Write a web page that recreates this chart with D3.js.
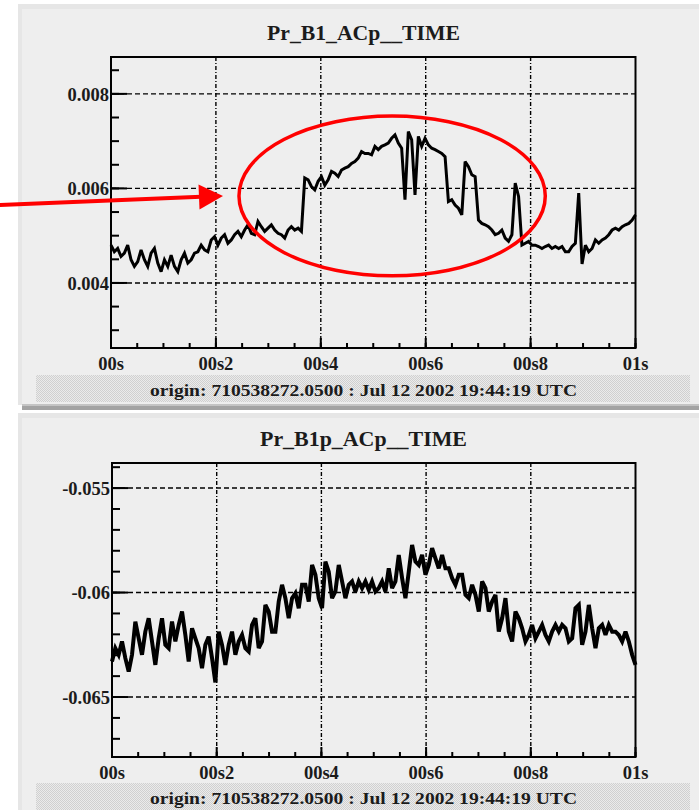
<!DOCTYPE html>
<html>
<head>
<meta charset="utf-8">
<script src="https://cdn.jsdelivr.net/npm/d3@7"></script>
<style>
  html, body { margin: 0; padding: 0; background: #fff; }
  svg { display: block; }
  text { font-family: "Liberation Serif", "DejaVu Serif", serif; font-weight: bold; fill: #1b1b1b; }
</style>
</head>
<body>
<div id="chart"></div>
<script>
const titles = ["Pr_B1_ACp__TIME", "Pr_B1p_ACp__TIME"];
const originText = "origin: 710538272.0500 : Jul 12 2002 19:44:19 UTC";

const xTicks = [0, 0.2, 0.4, 0.6, 0.8, 1];
const xTickLabels = ["00s", "00s2", "00s4", "00s6", "00s8", "01s"];

const topYDomain = [0.002624, 0.00878];
const topYTicks = [0.004, 0.006, 0.008];
const topYLabels = ["0.004", "0.006", "0.008"];

const bottomYDomain = [-0.06787, -0.0538];
const bottomYTicks = [-0.065, -0.06, -0.055];
const bottomYLabels = ["-0.065", "-0.06", "-0.055"];

// Pr_B1_ACp, one sample every ~3.3 px across the second
const topValues = [
  0.00480,0.00466,0.00473,0.00456,0.00463,0.00480,0.00449,0.00435,0.00445,0.00470,
  0.00449,0.00435,0.00463,0.00473,0.00442,0.00424,0.00449,0.00435,0.00459,0.00435,
  0.00424,0.00449,0.00463,0.00442,0.00449,0.00463,0.00466,0.00480,0.00470,0.00466,
  0.00491,0.00498,0.00480,0.00495,0.00502,0.00484,0.00491,0.00502,0.00509,0.00498,
  0.00512,0.00523,0.00505,0.00502,0.00530,0.00519,0.00509,0.00516,0.00523,0.00512,
  0.00505,0.00502,0.00495,0.00512,0.00519,0.00512,0.00516,0.00509,0.00622,0.00618,
  0.00604,0.00597,0.00615,0.00625,0.00607,0.00618,0.00636,0.00632,0.00625,0.00639,
  0.00643,0.00646,0.00653,0.00657,0.00664,0.00678,0.00674,0.00674,0.00671,0.00689,
  0.00682,0.00689,0.00692,0.00696,0.00706,0.00713,0.00696,0.00685,0.00576,0.00720,
  0.00703,0.00586,0.00710,0.00689,0.00706,0.00692,0.00685,0.00682,0.00678,0.00674,
  0.00667,0.00572,0.00576,0.00565,0.00558,0.00544,0.00657,0.00646,0.00629,0.00625,
  0.00533,0.00526,0.00523,0.00519,0.00512,0.00502,0.00505,0.00512,0.00495,0.00488,
  0.00502,0.00611,0.00583,0.00480,0.00484,0.00488,0.00480,0.00480,0.00477,0.00473,
  0.00477,0.00480,0.00473,0.00477,0.00473,0.00477,0.00466,0.00466,0.00477,0.00484,
  0.00590,0.00440,0.00480,0.00466,0.00473,0.00491,0.00484,0.00491,0.00495,0.00502,
  0.00512,0.00516,0.00512,0.00519,0.00523,0.00526,0.00533,0.00544
];

// Pr_B1p_ACp, same sampling
const bottomValues = [
  -0.06330,-0.06266,-0.06298,-0.06234,-0.06314,-0.06378,-0.06298,-0.06139,-0.06219,-0.06298,
  -0.06187,-0.06123,-0.06234,-0.06346,-0.06219,-0.06123,-0.06250,-0.06266,-0.06139,-0.06234,
  -0.06155,-0.06091,-0.06203,-0.06330,-0.06171,-0.06219,-0.06266,-0.06362,-0.06250,-0.06211,
  -0.06314,-0.06430,-0.06187,-0.06250,-0.06346,-0.06250,-0.06187,-0.06298,-0.06234,-0.06203,
  -0.06266,-0.06282,-0.06155,-0.06123,-0.06266,-0.06234,-0.06059,-0.06091,-0.06187,-0.06187,
  -0.06043,-0.05963,-0.06027,-0.06123,-0.06027,-0.06003,-0.06075,-0.05963,-0.05963,-0.06043,
  -0.05868,-0.05915,-0.06027,-0.06075,-0.05852,-0.05900,-0.06027,-0.05995,-0.05868,-0.05947,
  -0.06027,-0.05963,-0.05947,-0.05995,-0.05947,-0.05979,-0.05947,-0.05987,-0.05947,-0.05995,
  -0.05979,-0.05947,-0.05995,-0.05884,-0.05979,-0.05947,-0.05820,-0.05931,-0.06027,-0.05900,
  -0.05772,-0.05852,-0.05868,-0.05820,-0.05915,-0.05868,-0.05788,-0.05836,-0.05884,-0.05820,
  -0.05884,-0.05884,-0.05931,-0.05963,-0.05915,-0.05915,-0.06011,-0.06027,-0.05963,-0.06011,
  -0.06091,-0.05947,-0.05979,-0.06091,-0.06043,-0.06011,-0.06187,-0.06123,-0.06027,-0.06187,
  -0.06234,-0.06091,-0.06123,-0.06171,-0.06234,-0.06203,-0.06155,-0.06219,-0.06187,-0.06155,
  -0.06203,-0.06234,-0.06187,-0.06155,-0.06187,-0.06155,-0.06171,-0.06234,-0.06219,-0.06075,
  -0.06059,-0.06250,-0.06187,-0.06059,-0.06171,-0.06266,-0.06171,-0.06155,-0.06203,-0.06155,
  -0.06187,-0.06187,-0.06203,-0.06234,-0.06187,-0.06234,-0.06298,-0.06346
];

// red annotation on the upper plot, in data units (time, value)
const ellipseCenter = [0.536, 0.00584];
const ellipseRadius = [0.292, 0.00169];
const arrowFrom = [-0.213, 0.00565];
const arrowTo = [0.2135, 0.00584];

// ---- layout ----
const width = 699, height = 810;
const svg = d3.select("#chart").append("svg")
  .attr("width", width).attr("height", height)
  .attr("viewBox", [0, 0, width, height]);

const defs = svg.append("defs");
const pat = defs.append("pattern")
  .attr("id", "stipple").attr("width", 2).attr("height", 2)
  .attr("patternUnits", "userSpaceOnUse");
pat.append("rect").attr("width", 2).attr("height", 2).attr("fill", "#ebebeb");
pat.append("rect").attr("width", 1).attr("height", 1).attr("fill", "#d0d0d0");
pat.append("rect").attr("x", 1).attr("y", 1).attr("width", 1).attr("height", 1).attr("fill", "#d0d0d0");

function drawPanel(opt) {
  const g = svg.append("g");
  const f = opt.frame;

  // canvas background
  g.append("rect").attr("x", 18).attr("y", opt.padTop)
    .attr("width", width - 18).attr("height", opt.padBottom - opt.padTop)
    .attr("fill", "#e6e6e6");
  g.append("rect").attr("x", 22).attr("y", opt.padTop + 5)
    .attr("width", width - 22).attr("height", opt.padBottom - opt.padTop - 5)
    .attr("fill", "#eeeeee");

  const x = d3.scaleLinear().domain([0, 1]).range([f.left, f.right]);
  const y = d3.scaleLinear().domain(opt.yDomain).range([f.bottom, f.top]);

  // title
  g.append("text")
    .attr("x", 363.5).attr("y", opt.titleY)
    .attr("text-anchor", "middle")
    .attr("font-size", 21)
    .attr("textLength", opt.titleLen).attr("lengthAdjust", "spacingAndGlyphs")
    .text(opt.title);

  // grid
  g.append("g").selectAll("line").data(opt.yTicks).join("line")
    .attr("x1", f.left).attr("x2", f.right)
    .attr("y1", d => y(d)).attr("y2", d => y(d))
    .attr("stroke", "#000").attr("stroke-width", 1.4)
    .attr("stroke-dasharray", "5,3");
  g.append("g").selectAll("line").data(xTicks.slice(1, -1)).join("line")
    .attr("x1", d => x(d)).attr("x2", d => x(d))
    .attr("y1", f.top).attr("y2", f.bottom)
    .attr("stroke", "#000").attr("stroke-width", 1.4)
    .attr("stroke-dasharray", "4,2,1,2");

  // trace
  const times = d3.range(opt.values.length).map(i => i / (opt.values.length - 1));
  const line = d3.line().x((d, i) => x(times[i])).y(d => y(d));
  g.append("path")
    .datum(opt.values)
    .attr("fill", "none")
    .attr("stroke", "#000")
    .attr("stroke-width", opt.lineWidth)
    .attr("stroke-linejoin", "miter")
    .attr("stroke-miterlimit", 3)
    .attr("d", line);

  // ticks, ROOT style: drawn inward from the frame
  const yStep = opt.yMinorStep;
  const yMinor = d3.range(Math.ceil(opt.yDomain[0] / yStep), Math.floor(opt.yDomain[1] / yStep) + 1)
    .map(k => k * yStep);
  const xMinor = d3.range(0, 21).map(k => k * 0.05);
  const ticks = g.append("g").attr("stroke", "#000").attr("stroke-width", 2);
  ticks.selectAll(".ymin").data(yMinor).join("line").attr("class", "ymin")
    .attr("x1", f.left).attr("x2", f.left + 8)
    .attr("y1", d => y(d)).attr("y2", d => y(d));
  ticks.selectAll(".ymaj").data(opt.yTicks).join("line").attr("class", "ymaj")
    .attr("x1", f.left).attr("x2", f.left + 16)
    .attr("y1", d => y(d)).attr("y2", d => y(d));
  ticks.selectAll(".xmin").data(xMinor).join("line").attr("class", "xmin")
    .attr("x1", d => x(d)).attr("x2", d => x(d))
    .attr("y1", f.bottom).attr("y2", f.bottom - 5);
  ticks.selectAll(".xmaj").data(xTicks).join("line").attr("class", "xmaj")
    .attr("x1", d => x(d)).attr("x2", d => x(d))
    .attr("y1", f.bottom).attr("y2", f.bottom - 10);

  // labels
  g.append("g").selectAll("text").data(opt.yTicks).join("text")
    .attr("x", f.left - 2).attr("y", d => y(d)).attr("dy", "0.36em")
    .attr("text-anchor", "end").attr("font-size", 18.5)
    .text((d, i) => opt.yLabels[i]);
  g.append("g").selectAll("text").data(xTicks).join("text")
    .attr("x", d => x(d)).attr("y", f.bottom + 22)
    .attr("text-anchor", "middle").attr("font-size", 18.5)
    .text((d, i) => xTickLabels[i]);

  // frame
  g.append("rect")
    .attr("x", f.left).attr("y", f.top)
    .attr("width", f.right - f.left).attr("height", f.bottom - f.top)
    .attr("fill", "none").attr("stroke", "#000").attr("stroke-width", 2);

  // origin bar
  g.append("rect").attr("x", 36).attr("y", opt.barY)
    .attr("width", 654).attr("height", 27).attr("fill", "url(#stipple)");
  g.append("text")
    .attr("x", 363.5).attr("y", opt.barY + 21)
    .attr("text-anchor", "middle").attr("font-size", 17.5)
    .attr("textLength", 427).attr("lengthAdjust", "spacingAndGlyphs")
    .text(originText);

  return { x, y };
}

const upper = drawPanel({
  padTop: 4, padBottom: 405,
  frame: { left: 111, right: 635.5, top: 57, bottom: 348 },
  yDomain: topYDomain, yTicks: topYTicks, yLabels: topYLabels, yMinorStep: 0.0005,
  values: topValues, lineWidth: 3,
  title: titles[0], titleY: 40, titleLen: 193,
  barY: 375
});

// separator between the two canvases
svg.append("rect").attr("x", 22).attr("y", 404).attr("width", width - 22).attr("height", 6)
  .attr("fill", "#a3a3a3");
svg.append("rect").attr("x", 22).attr("y", 404).attr("width", width - 22).attr("height", 2)
  .attr("fill", "#c4c4c4");

drawPanel({
  padTop: 413, padBottom: 810,
  frame: { left: 112, right: 635.5, top: 463, bottom: 757 },
  yDomain: bottomYDomain, yTicks: bottomYTicks, yLabels: bottomYLabels, yMinorStep: 0.001,
  values: bottomValues, lineWidth: 4,
  title: titles[1], titleY: 446, titleLen: 207,
  barY: 783
});

// red annotation
const ann = svg.append("g").attr("fill", "none").attr("stroke", "#f00");
const cx = upper.x(ellipseCenter[0]), cy = upper.y(ellipseCenter[1]);
ann.append("ellipse")
  .attr("cx", cx).attr("cy", cy)
  .attr("rx", upper.x(ellipseCenter[0] + ellipseRadius[0]) - cx)
  .attr("ry", upper.y(ellipseCenter[1] - ellipseRadius[1]) - cy)
  .attr("stroke-width", 3.5);

const x0 = upper.x(arrowFrom[0]), y0 = upper.y(arrowFrom[1]);
const x1 = upper.x(arrowTo[0]), y1 = upper.y(arrowTo[1]);
const len = Math.hypot(x1 - x0, y1 - y0);
const ux = (x1 - x0) / len, uy = (y1 - y0) / len;
const headLen = 24, headHalf = 12.5;
const bx = x1 - ux * headLen, by = y1 - uy * headLen;
ann.append("line")
  .attr("x1", x0).attr("y1", y0).attr("x2", bx + ux * 2).attr("y2", by + uy * 2)
  .attr("stroke-width", 4);
ann.append("path")
  .attr("d", `M${x1},${y1}L${bx - uy * headHalf},${by + ux * headHalf}L${bx + uy * headHalf},${by - ux * headHalf}Z`)
  .attr("fill", "#f00").attr("stroke", "none");
</script>
</body>
</html>
